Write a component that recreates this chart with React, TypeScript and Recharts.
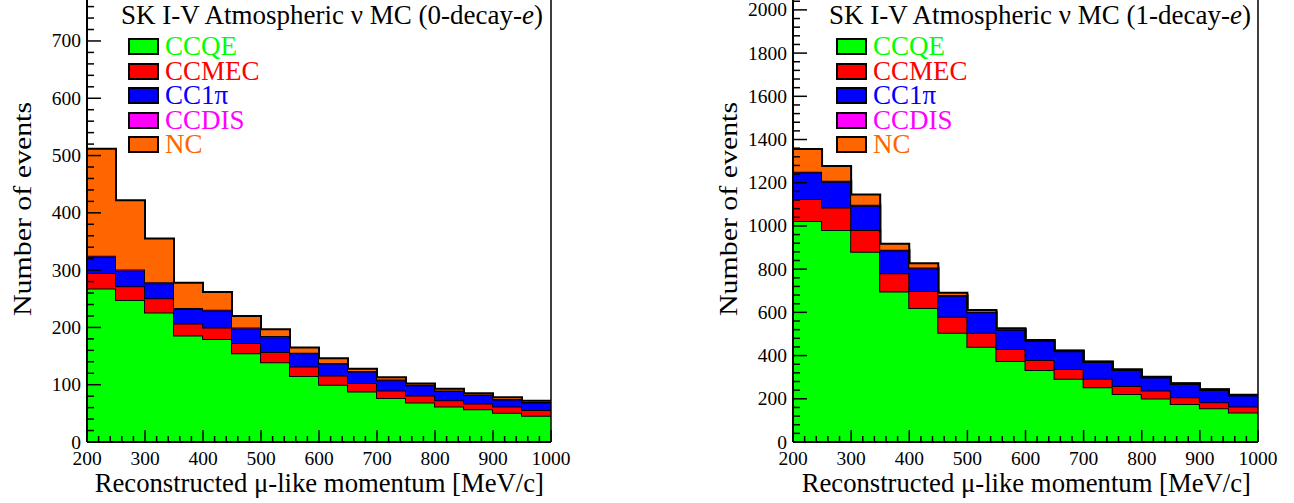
import React from 'react';
import { ComposedChart, Area, XAxis, YAxis, Legend, ReferenceLine } from 'recharts';

// bin low edges in MeV/c (last entry closes the final bin)
const binEdges = [200, 250, 300, 350, 400, 450, 500, 550, 600, 650, 700, 750, 800, 850, 900, 950, 1000];

// 0-decay-e sample, events per bin
const ccqe0 = [268, 248, 226, 186, 180, 155, 139, 115, 100, 88, 77, 69, 62, 57, 51, 46];
const ccmec0 = [27, 24, 25, 21, 20, 18, 18, 17, 16, 15, 13, 12, 11, 10, 11, 10];
const cc1pi0 = [28, 27, 26, 25, 29, 25, 26, 23, 21, 20, 18, 18, 16, 15, 12, 13];
const ccdis0 = [2, 2, 2, 2, 2, 2, 2, 1, 1, 1, 1, 1, 1, 1, 1, 1];
const nc0 = [187, 121, 76, 44, 31, 20, 12, 9, 8, 4, 4, 2, 3, 2, 3, 2];

// 1-decay-e sample, events per bin
const ccqe1 = [1023, 981, 881, 696, 620, 506, 441, 375, 333, 293, 253, 222, 201, 176, 156, 137];
const ccmec1 = [102, 104, 100, 85, 79, 74, 65, 56, 47, 45, 40, 37, 37, 31, 28, 27];
const cc1pi1 = [122, 120, 113, 105, 105, 97, 94, 88, 89, 82, 77, 74, 61, 62, 57, 51];
const ccdis1 = [4, 4, 4, 4, 4, 3, 3, 3, 2, 2, 2, 2, 2, 2, 2, 2];
const nc1 = [105, 69, 48, 27, 19, 11, 8, 4, 1, 1, 1, 1, 1, 1, 1, 2];

const xTicks = [200, 220, 240, 260, 280, 300, 320, 340, 360, 380, 400, 420, 440, 460, 480, 500, 520, 540, 560, 580, 600, 620, 640, 660, 680, 700, 720, 740, 760, 780, 800, 820, 840, 860, 880, 900, 920, 940, 960, 980, 1000];
const yTicks0 = [0, 20, 40, 60, 80, 100, 120, 140, 160, 180, 200, 220, 240, 260, 280, 300, 320, 340, 360, 380, 400, 420, 440, 460, 480, 500, 520, 540, 560, 580, 600, 620, 640, 660, 680, 700, 720, 740, 760];
const yTicks1 = [0, 40, 80, 120, 160, 200, 240, 280, 320, 360, 400, 440, 480, 520, 560, 600, 640, 680, 720, 760, 800, 840, 880, 920, 960, 1000, 1040, 1080, 1120, 1160, 1200, 1240, 1280, 1320, 1360, 1400, 1440, 1480, 1520, 1560, 1600, 1640, 1680, 1720, 1760, 1800, 1840, 1880, 1920, 1960, 2000, 2040];

const modes = [
  { key: 'ccqe', name: 'CCQE', color: '#00ff00' },
  { key: 'ccmec', name: 'CCMEC', color: '#ff0000' },
  { key: 'cc1pi', name: 'CC1\u03c0', color: '#0000ff' },
  { key: 'ccdis', name: 'CCDIS', color: '#ff00ff' },
  { key: 'nc', name: 'NC', color: '#ff6600' },
];

const FONT = '"Liberation Serif", "Times New Roman", serif';
const textStyle = { fontFamily: FONT };

// step histogram rows: the last edge repeats the last bin so stepAfter closes it
const makeRows = (q: number[], m: number[], p: number[], d: number[], n: number[]) =>
  binEdges.map((x, i) => {
    const k = Math.min(i, q.length - 1);
    return { x, ccqe: q[k], ccmec: m[k], cc1pi: p[k], ccdis: d[k], nc: n[k] };
  });

const rows0 = makeRows(ccqe0, ccmec0, cc1pi0, ccdis0, nc0);
const rows1 = makeRows(ccqe1, ccmec1, cc1pi1, ccdis1, nc1);

const XTick = (props: any) => {
  const { x, y, payload } = props;
  const major = payload.value % 100 === 0;
  return (
    <g>
      <line x1={x} x2={x} y1={y} y2={y - (major ? 12 : 6)} stroke="#000" strokeWidth={1.5} />
      {major && (
        <text x={x} y={y + 16.5} textAnchor="middle" dominantBaseline="central"
          style={textStyle} fontFamily={FONT} fontSize={19.5} fill="#000">
          {payload.value}
        </text>
      )}
    </g>
  );
};

const makeYTick = (step: number) => (props: any) => {
  const { x, y, payload } = props;
  const major = payload.value % step === 0;
  return (
    <g>
      <line x1={x} x2={x + (major ? 14 : 7)} y1={y} y2={y} stroke="#000" strokeWidth={1.5} />
      {major && (
        <text x={x - 6} y={y} textAnchor="end" dominantBaseline="central"
          style={textStyle} fontFamily={FONT} fontSize={19.5} fill="#000">
          {payload.value}
        </text>
      )}
    </g>
  );
};

const XTitle = (props: any) => {
  const vb = props.viewBox || { x: 0, y: 444, width: 464, height: 61 };
  return (
    <text x={vb.x + vb.width - 7} y={vb.y + 50} textAnchor="end"
      style={textStyle} fontFamily={FONT} fontSize={26.7} fill="#000">
      Reconstructed {'\u03bc'}-like momentum [MeV/c]
    </text>
  );
};

const YTitle = (props: any) => {
  const vb = props.viewBox || { x: 0, y: 0, width: 87, height: 444 };
  return (
    <text transform={`translate(${vb.x + vb.width - 65},${211}) scale(1,1.15) rotate(-90)`} textAnchor="middle"
      dominantBaseline="central" style={textStyle} fontFamily={FONT} fontSize={26} fill="#000">
      Number of events
    </text>
  );
};

const LegendBox = ({ tag }: { tag: string }) => (
  <div style={{ position: 'relative', width: 460, height: 160, fontFamily: FONT }}>
    <div style={{ position: 'absolute', left: 0, top: 4, fontSize: 27, lineHeight: '22px', whiteSpace: 'nowrap', color: '#000' }}>
      SK I-V Atmospheric {'\u03bd'} MC ({tag}-decay-<i>e</i>)
    </div>
    {modes.map((m, i) => {
      const top = 38 + i * 24.5;
      return (
        <React.Fragment key={m.key}>
          <div style={{ position: 'absolute', left: 7, top, width: 31, height: 17, boxSizing: 'border-box',
            background: m.color, border: '2px solid #000' }} />
          <div style={{ position: 'absolute', left: 44, top: top - 2.7, fontSize: 27, lineHeight: '22px',
            color: m.color, whiteSpace: 'nowrap' }}>
            {m.name}
          </div>
        </React.Fragment>
      );
    })}
  </div>
);

const Panel = ({ rows, yMax, yTicks, major, tag, yWidth, right, legendLeft }: any) => (
  <ComposedChart width={647} height={505} data={rows} margin={{ top: 0, right, bottom: 0, left: 0 }}>
    <XAxis type="number" dataKey="x" domain={[200, 1000]} ticks={xTicks} interval={0} allowDataOverflow
      height={61} tickSize={0} tickMargin={0} tickLine={false} tick={<XTick />}
      axisLine={{ stroke: '#000', strokeWidth: 2 }} label={{ content: <XTitle /> }} />
    <YAxis type="number" domain={[0, yMax]} ticks={yTicks} interval={0} allowDataOverflow width={yWidth}
      tickSize={0} tickMargin={0} tickLine={false} tick={makeYTick(major)}
      axisLine={{ stroke: '#000', strokeWidth: 2 }} label={{ content: <YTitle /> }} />
    {modes.map((m) => (
      <Area key={m.key} type="stepAfter" dataKey={m.key} name={m.name} stackId="stack" fill={m.color} fillOpacity={1}
        stroke="#000" strokeWidth={2} dot={false} activeDot={false} isAnimationActive={false} />
    ))}
    <ReferenceLine x={1000} stroke="#000" strokeWidth={1.5} />
    <Legend layout="vertical" align="center" verticalAlign="middle"
      wrapperStyle={{ left: legendLeft, top: 2, width: 460, height: 160 }}
      content={() => <LegendBox tag={tag} />} />
  </ComposedChart>
);

export default function App() {
  return (
    <div style={{ position: 'absolute', left: 0, top: 0, width: 1294, height: 503, overflow: 'hidden', background: '#fff' }}>
      <div style={{ position: 'absolute', left: 0, top: -2 }}>
        <Panel rows={rows0} yMax={775} yTicks={yTicks0} major={100} tag="0" yWidth={87} right={96} legendLeft={121} />
      </div>
      <div style={{ position: 'absolute', left: 647, top: -2 }}>
        <Panel rows={rows1} yMax={2055} yTicks={yTicks1} major={200} tag="1" yWidth={146} right={36} legendLeft={182} />
      </div>
    </div>
  );
}
